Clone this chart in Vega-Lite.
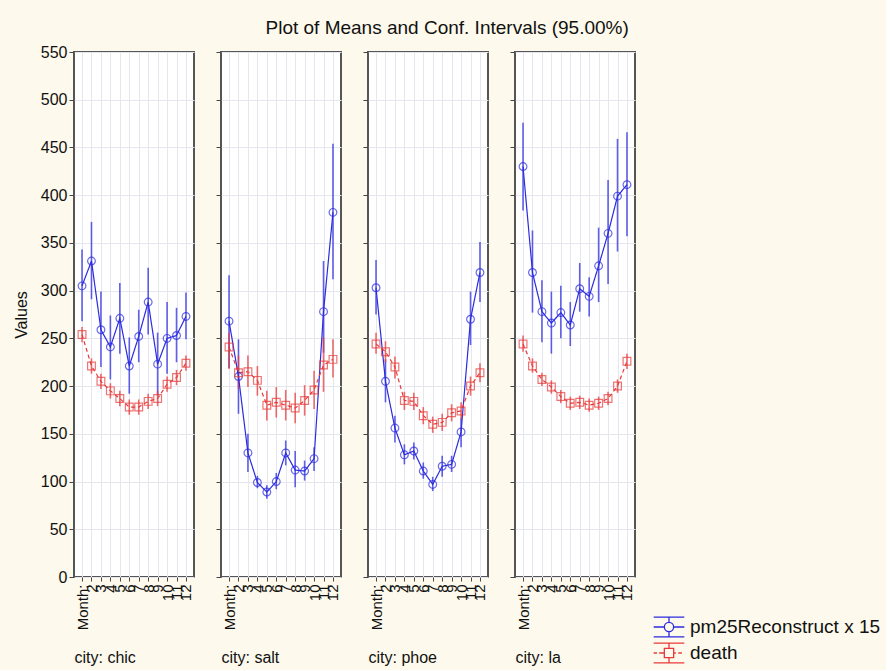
{
  "$schema": "https://vega.github.io/schema/vega-lite/v6.json",
  "background": "#FDF9EC",
  "padding": {"left": 12, "top": 19, "right": 4, "bottom": 3},
  "title": {"text": "Plot of Means and Conf. Intervals (95.00%)", "anchor": "middle", "frame": "bounds", "fontSize": 19, "fontWeight": "normal", "font": "Liberation Sans", "color": "#111", "offset": 5},
  "data": {"values": [
    {"city":"chic","month":1,"series":"pm25Reconstruct x 15","mean":305,"lo":268,"hi":343},
    {"city":"chic","month":2,"series":"pm25Reconstruct x 15","mean":331,"lo":291,"hi":372},
    {"city":"chic","month":3,"series":"pm25Reconstruct x 15","mean":259,"lo":220,"hi":299},
    {"city":"chic","month":4,"series":"pm25Reconstruct x 15","mean":241,"lo":207,"hi":274},
    {"city":"chic","month":5,"series":"pm25Reconstruct x 15","mean":271,"lo":234,"hi":308},
    {"city":"chic","month":6,"series":"pm25Reconstruct x 15","mean":221,"lo":192,"hi":251},
    {"city":"chic","month":7,"series":"pm25Reconstruct x 15","mean":252,"lo":225,"hi":280},
    {"city":"chic","month":8,"series":"pm25Reconstruct x 15","mean":288,"lo":254,"hi":324},
    {"city":"chic","month":9,"series":"pm25Reconstruct x 15","mean":223,"lo":190,"hi":256},
    {"city":"chic","month":10,"series":"pm25Reconstruct x 15","mean":250,"lo":213,"hi":288},
    {"city":"chic","month":11,"series":"pm25Reconstruct x 15","mean":253,"lo":225,"hi":282},
    {"city":"chic","month":12,"series":"pm25Reconstruct x 15","mean":273,"lo":249,"hi":298},
    {"city":"chic","month":1,"series":"death","mean":254,"lo":246,"hi":262},
    {"city":"chic","month":2,"series":"death","mean":221,"lo":213,"hi":229},
    {"city":"chic","month":3,"series":"death","mean":205,"lo":197,"hi":213},
    {"city":"chic","month":4,"series":"death","mean":195,"lo":187,"hi":203},
    {"city":"chic","month":5,"series":"death","mean":187,"lo":179,"hi":195},
    {"city":"chic","month":6,"series":"death","mean":178,"lo":170,"hi":186},
    {"city":"chic","month":7,"series":"death","mean":178,"lo":170,"hi":186},
    {"city":"chic","month":8,"series":"death","mean":184,"lo":176,"hi":192},
    {"city":"chic","month":9,"series":"death","mean":187,"lo":179,"hi":195},
    {"city":"chic","month":10,"series":"death","mean":202,"lo":194,"hi":210},
    {"city":"chic","month":11,"series":"death","mean":209,"lo":201,"hi":217},
    {"city":"chic","month":12,"series":"death","mean":224,"lo":216,"hi":232},
    {"city":"salt","month":1,"series":"pm25Reconstruct x 15","mean":268,"lo":219,"hi":316},
    {"city":"salt","month":2,"series":"pm25Reconstruct x 15","mean":210,"lo":171,"hi":249},
    {"city":"salt","month":3,"series":"pm25Reconstruct x 15","mean":130,"lo":110,"hi":150},
    {"city":"salt","month":4,"series":"pm25Reconstruct x 15","mean":99,"lo":93,"hi":106},
    {"city":"salt","month":5,"series":"pm25Reconstruct x 15","mean":89,"lo":82,"hi":96},
    {"city":"salt","month":6,"series":"pm25Reconstruct x 15","mean":100,"lo":92,"hi":109},
    {"city":"salt","month":7,"series":"pm25Reconstruct x 15","mean":130,"lo":117,"hi":143},
    {"city":"salt","month":8,"series":"pm25Reconstruct x 15","mean":112,"lo":94,"hi":132},
    {"city":"salt","month":9,"series":"pm25Reconstruct x 15","mean":111,"lo":101,"hi":122},
    {"city":"salt","month":10,"series":"pm25Reconstruct x 15","mean":124,"lo":111,"hi":136},
    {"city":"salt","month":11,"series":"pm25Reconstruct x 15","mean":278,"lo":235,"hi":331},
    {"city":"salt","month":12,"series":"pm25Reconstruct x 15","mean":382,"lo":312,"hi":454},
    {"city":"salt","month":1,"series":"death","mean":241,"lo":218,"hi":256},
    {"city":"salt","month":2,"series":"death","mean":214,"lo":197,"hi":232},
    {"city":"salt","month":3,"series":"death","mean":215,"lo":199,"hi":232},
    {"city":"salt","month":4,"series":"death","mean":206,"lo":190,"hi":221},
    {"city":"salt","month":5,"series":"death","mean":180,"lo":164,"hi":195},
    {"city":"salt","month":6,"series":"death","mean":183,"lo":167,"hi":199},
    {"city":"salt","month":7,"series":"death","mean":180,"lo":164,"hi":196},
    {"city":"salt","month":8,"series":"death","mean":177,"lo":161,"hi":193},
    {"city":"salt","month":9,"series":"death","mean":185,"lo":169,"hi":201},
    {"city":"salt","month":10,"series":"death","mean":196,"lo":176,"hi":216},
    {"city":"salt","month":11,"series":"death","mean":222,"lo":194,"hi":251},
    {"city":"salt","month":12,"series":"death","mean":228,"lo":209,"hi":249},
    {"city":"phoe","month":1,"series":"pm25Reconstruct x 15","mean":303,"lo":275,"hi":332},
    {"city":"phoe","month":2,"series":"pm25Reconstruct x 15","mean":205,"lo":183,"hi":228},
    {"city":"phoe","month":3,"series":"pm25Reconstruct x 15","mean":156,"lo":141,"hi":169},
    {"city":"phoe","month":4,"series":"pm25Reconstruct x 15","mean":128,"lo":118,"hi":139},
    {"city":"phoe","month":5,"series":"pm25Reconstruct x 15","mean":132,"lo":123,"hi":141},
    {"city":"phoe","month":6,"series":"pm25Reconstruct x 15","mean":111,"lo":103,"hi":120},
    {"city":"phoe","month":7,"series":"pm25Reconstruct x 15","mean":97,"lo":90,"hi":105},
    {"city":"phoe","month":8,"series":"pm25Reconstruct x 15","mean":116,"lo":105,"hi":127},
    {"city":"phoe","month":9,"series":"pm25Reconstruct x 15","mean":118,"lo":110,"hi":127},
    {"city":"phoe","month":10,"series":"pm25Reconstruct x 15","mean":152,"lo":136,"hi":166},
    {"city":"phoe","month":11,"series":"pm25Reconstruct x 15","mean":270,"lo":243,"hi":299},
    {"city":"phoe","month":12,"series":"pm25Reconstruct x 15","mean":319,"lo":288,"hi":351},
    {"city":"phoe","month":1,"series":"death","mean":244,"lo":234,"hi":256},
    {"city":"phoe","month":2,"series":"death","mean":236,"lo":225,"hi":247},
    {"city":"phoe","month":3,"series":"death","mean":220,"lo":208,"hi":231},
    {"city":"phoe","month":4,"series":"death","mean":185,"lo":175,"hi":194},
    {"city":"phoe","month":5,"series":"death","mean":184,"lo":175,"hi":193},
    {"city":"phoe","month":6,"series":"death","mean":169,"lo":160,"hi":178},
    {"city":"phoe","month":7,"series":"death","mean":160,"lo":151,"hi":168},
    {"city":"phoe","month":8,"series":"death","mean":162,"lo":153,"hi":171},
    {"city":"phoe","month":9,"series":"death","mean":172,"lo":163,"hi":181},
    {"city":"phoe","month":10,"series":"death","mean":174,"lo":165,"hi":183},
    {"city":"phoe","month":11,"series":"death","mean":200,"lo":190,"hi":210},
    {"city":"phoe","month":12,"series":"death","mean":214,"lo":204,"hi":224},
    {"city":"la","month":1,"series":"pm25Reconstruct x 15","mean":430,"lo":384,"hi":476},
    {"city":"la","month":2,"series":"pm25Reconstruct x 15","mean":319,"lo":277,"hi":363},
    {"city":"la","month":3,"series":"pm25Reconstruct x 15","mean":278,"lo":246,"hi":311},
    {"city":"la","month":4,"series":"pm25Reconstruct x 15","mean":266,"lo":234,"hi":299},
    {"city":"la","month":5,"series":"pm25Reconstruct x 15","mean":277,"lo":250,"hi":305},
    {"city":"la","month":6,"series":"pm25Reconstruct x 15","mean":264,"lo":242,"hi":288},
    {"city":"la","month":7,"series":"pm25Reconstruct x 15","mean":302,"lo":278,"hi":329},
    {"city":"la","month":8,"series":"pm25Reconstruct x 15","mean":294,"lo":273,"hi":314},
    {"city":"la","month":9,"series":"pm25Reconstruct x 15","mean":326,"lo":288,"hi":366},
    {"city":"la","month":10,"series":"pm25Reconstruct x 15","mean":360,"lo":307,"hi":416},
    {"city":"la","month":11,"series":"pm25Reconstruct x 15","mean":399,"lo":341,"hi":459},
    {"city":"la","month":12,"series":"pm25Reconstruct x 15","mean":411,"lo":357,"hi":466},
    {"city":"la","month":1,"series":"death","mean":244,"lo":236,"hi":253},
    {"city":"la","month":2,"series":"death","mean":221,"lo":214,"hi":229},
    {"city":"la","month":3,"series":"death","mean":207,"lo":200,"hi":214},
    {"city":"la","month":4,"series":"death","mean":199,"lo":192,"hi":206},
    {"city":"la","month":5,"series":"death","mean":189,"lo":182,"hi":196},
    {"city":"la","month":6,"series":"death","mean":182,"lo":175,"hi":189},
    {"city":"la","month":7,"series":"death","mean":183,"lo":176,"hi":190},
    {"city":"la","month":8,"series":"death","mean":180,"lo":173,"hi":187},
    {"city":"la","month":9,"series":"death","mean":182,"lo":175,"hi":189},
    {"city":"la","month":10,"series":"death","mean":187,"lo":180,"hi":194},
    {"city":"la","month":11,"series":"death","mean":200,"lo":193,"hi":207},
    {"city":"la","month":12,"series":"death","mean":226,"lo":218,"hi":234}
  ]},
  "spacing": 27,
  "bounds": "flush",
  "resolve": {"legend": {"color": "independent", "shape": "independent"}},
  "hconcat": [
    {
      "width": 120, "height": 525,
      "transform": [{"filter": "datum.city == 'chic'"}],
      "encoding": {
        "x": {"field": "month", "type": "ordinal", "scale": {"type": "point", "padding": 0.85}, "axis": {"title": "city: chic", "grid": true, "labelExpr": "datum.value == 1 ? 'Month:' : datum.label"}},
        "color": {"field": "series", "type": "nominal", "scale": {"domain": ["pm25Reconstruct x 15", "death"], "range": ["#2B2BE0", "#E83A3A"]}, "legend": null}
      },
      "layer": [
        {"mark": {"type": "rule", "strokeWidth": 1.6, "opacity": 0.75}, "encoding": {"y": {"field": "lo", "type": "quantitative", "scale": {"domain": [0, 550], "nice": false}, "axis": {"title": "Values", "values": [0,50,100,150,200,250,300,350,400,450,500,550]}}, "y2": {"field": "hi"}}},
        {"mark": {"type": "line", "strokeWidth": 1.2}, "encoding": {"y": {"field": "mean", "type": "quantitative"}, "strokeDash": {"field": "series", "type": "nominal", "scale": {"domain": ["pm25Reconstruct x 15", "death"], "range": [[1, 0], [4, 3]]}, "legend": null}}},
        {"transform": [{"filter": "datum.series == 'pm25Reconstruct x 15'"}], "mark": {"type": "point", "shape": "circle", "filled": false, "size": 60, "strokeWidth": 1.2}, "encoding": {"y": {"field": "mean", "type": "quantitative"}}},
        {"transform": [{"filter": "datum.series == 'death'"}], "mark": {"type": "point", "shape": "square", "filled": false, "size": 60, "strokeWidth": 1.2}, "encoding": {"y": {"field": "mean", "type": "quantitative"}}}
      ]
    },
    {
      "width": 120, "height": 525,
      "transform": [{"filter": "datum.city == 'salt'"}],
      "encoding": {
        "x": {"field": "month", "type": "ordinal", "scale": {"type": "point", "padding": 0.85}, "axis": {"title": "city: salt", "grid": true, "labelExpr": "datum.value == 1 ? 'Month:' : datum.label"}},
        "color": {"field": "series", "type": "nominal", "scale": {"domain": ["pm25Reconstruct x 15", "death"], "range": ["#2B2BE0", "#E83A3A"]}, "legend": null}
      },
      "layer": [
        {"mark": {"type": "rule", "strokeWidth": 1.6, "opacity": 0.75}, "encoding": {"y": {"field": "lo", "type": "quantitative", "scale": {"domain": [0, 550], "nice": false}, "axis": {"title": null, "labels": false, "values": [0,50,100,150,200,250,300,350,400,450,500,550]}}, "y2": {"field": "hi"}}},
        {"mark": {"type": "line", "strokeWidth": 1.2}, "encoding": {"y": {"field": "mean", "type": "quantitative"}, "strokeDash": {"field": "series", "type": "nominal", "scale": {"domain": ["pm25Reconstruct x 15", "death"], "range": [[1, 0], [4, 3]]}, "legend": null}}},
        {"transform": [{"filter": "datum.series == 'pm25Reconstruct x 15'"}], "mark": {"type": "point", "shape": "circle", "filled": false, "size": 60, "strokeWidth": 1.2}, "encoding": {"y": {"field": "mean", "type": "quantitative"}}},
        {"transform": [{"filter": "datum.series == 'death'"}], "mark": {"type": "point", "shape": "square", "filled": false, "size": 60, "strokeWidth": 1.2}, "encoding": {"y": {"field": "mean", "type": "quantitative"}}}
      ]
    },
    {
      "width": 120, "height": 525,
      "transform": [{"filter": "datum.city == 'phoe'"}],
      "encoding": {
        "x": {"field": "month", "type": "ordinal", "scale": {"type": "point", "padding": 0.85}, "axis": {"title": "city: phoe", "grid": true, "labelExpr": "datum.value == 1 ? 'Month:' : datum.label"}},
        "color": {"field": "series", "type": "nominal", "scale": {"domain": ["pm25Reconstruct x 15", "death"], "range": ["#2B2BE0", "#E83A3A"]}, "legend": null}
      },
      "layer": [
        {"mark": {"type": "rule", "strokeWidth": 1.6, "opacity": 0.75}, "encoding": {"y": {"field": "lo", "type": "quantitative", "scale": {"domain": [0, 550], "nice": false}, "axis": {"title": null, "labels": false, "values": [0,50,100,150,200,250,300,350,400,450,500,550]}}, "y2": {"field": "hi"}}},
        {"mark": {"type": "line", "strokeWidth": 1.2}, "encoding": {"y": {"field": "mean", "type": "quantitative"}, "strokeDash": {"field": "series", "type": "nominal", "scale": {"domain": ["pm25Reconstruct x 15", "death"], "range": [[1, 0], [4, 3]]}, "legend": null}}},
        {"transform": [{"filter": "datum.series == 'pm25Reconstruct x 15'"}], "mark": {"type": "point", "shape": "circle", "filled": false, "size": 60, "strokeWidth": 1.2}, "encoding": {"y": {"field": "mean", "type": "quantitative"}}},
        {"transform": [{"filter": "datum.series == 'death'"}], "mark": {"type": "point", "shape": "square", "filled": false, "size": 60, "strokeWidth": 1.2}, "encoding": {"y": {"field": "mean", "type": "quantitative"}}}
      ]
    },
    {
      "width": 120, "height": 525,
      "transform": [{"filter": "datum.city == 'la'"}],
      "encoding": {
        "x": {"field": "month", "type": "ordinal", "scale": {"type": "point", "padding": 0.85}, "axis": {"title": "city: la", "grid": true, "labelExpr": "datum.value == 1 ? 'Month:' : datum.label"}},
        "color": {"field": "series", "type": "nominal", "scale": {"domain": ["pm25Reconstruct x 15", "death"], "range": ["#2B2BE0", "#E83A3A"]}}
      },
      "layer": [
        {"mark": {"type": "rule", "strokeWidth": 1.6, "opacity": 0.75}, "encoding": {"y": {"field": "lo", "type": "quantitative", "scale": {"domain": [0, 550], "nice": false}, "axis": {"title": null, "labels": false, "values": [0,50,100,150,200,250,300,350,400,450,500,550]}}, "y2": {"field": "hi"}}},
        {"mark": {"type": "line", "strokeWidth": 1.2}, "encoding": {"y": {"field": "mean", "type": "quantitative"}, "strokeDash": {"field": "series", "type": "nominal", "scale": {"domain": ["pm25Reconstruct x 15", "death"], "range": [[1, 0], [4, 3]]}, "legend": null}}},
        {"transform": [{"filter": "datum.series == 'pm25Reconstruct x 15'"}], "mark": {"type": "point", "shape": "circle", "filled": false, "size": 60, "strokeWidth": 1.2}, "encoding": {"y": {"field": "mean", "type": "quantitative"}}},
        {"transform": [{"filter": "datum.series == 'death'"}], "mark": {"type": "point", "shape": "square", "filled": false, "size": 60, "strokeWidth": 1.2}, "encoding": {"y": {"field": "mean", "type": "quantitative"}}},
        {"mark": {"type": "point", "filled": false, "strokeWidth": 1.3, "opacity": 0}, "encoding": {
          "y": {"field": "mean", "type": "quantitative"},
          "shape": {"field": "series", "type": "nominal", "scale": {"domain": ["pm25Reconstruct x 15", "death"], "range": ["M-1.25,-0.8H1.25M-1.25,0.8H1.25M0,-0.8V-0.38M0,0.38V0.8M-1.25,0H-0.38M0.38,0H1.25M-0.38,0A0.38,0.38 0 1 0 0.38,0A0.38,0.38 0 1 0 -0.38,0", "M-1.25,-0.8H1.25M-1.25,0.8H1.25M0,-0.8V-0.38M0,0.38V0.8M-1.25,0H-0.98M-0.8,0H-0.38M0.38,0H0.56M0.76,0H1.05M-0.38,-0.38H0.38V0.38H-0.38Z"]}}
        }}
      ]
    }
  ],
  "config": {
    "font": "Liberation Sans",
    "view": {"stroke": "#555", "strokeWidth": 2, "fill": "#FFFFFF"},
    "legend": {"title": null, "orient": "none", "legendX": 141, "legendY": 562, "labelFontSize": 19, "labelFont": "Liberation Sans", "labelColor": "#111", "labelLimit": 400, "symbolSize": 600, "symbolOpacity": 1, "rowPadding": -1, "labelOffset": 8, "symbolStrokeWidth": 1.3, "symbolFillColor": "transparent"},
    "axis": {"labelFont": "Liberation Sans", "labelColor": "#111", "titleFont": "Liberation Sans", "titleColor": "#111", "titleFontWeight": "normal", "domain": false, "gridColor": "#E6E6EE", "gridWidth": 1, "tickColor": "#444", "tickSize": 5},
    "axisY": {"labelFontSize": 16, "titleFontSize": 16, "titlePadding": 11, "labelPadding": 2},
    "axisX": {"labelFontSize": 15, "labelAngle": -90, "labelAlign": "right", "labelBaseline": "middle", "labelOverlap": false, "labelPadding": 3, "tickSize": 4, "titleFontSize": 16, "titleAnchor": "start", "titleAlign": "left", "titlePadding": 20}
  }
}
